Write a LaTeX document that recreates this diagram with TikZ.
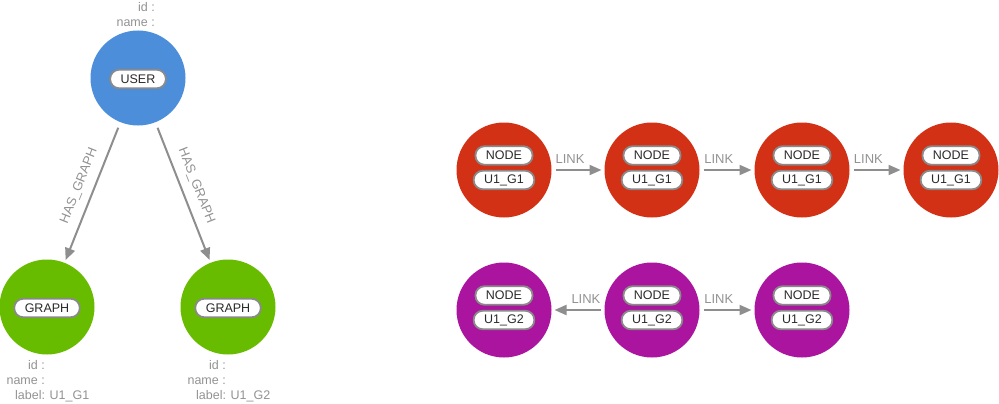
\documentclass[tikz,border=0pt]{standalone}
\usepackage{fontspec}
\setmainfont{Liberation Sans}
\usetikzlibrary{arrows.meta}
\definecolor{userblue}{HTML}{4C8EDA}
\definecolor{graphgreen}{HTML}{68BC00}
\definecolor{nodered}{HTML}{D33115}
\definecolor{nodepurple}{HTML}{AB149E}
\definecolor{pillgray}{HTML}{8A8A8A}
\definecolor{linkgray}{HTML}{8E8E8E}
\definecolor{labelgray}{HTML}{929292}
\definecolor{textdark}{HTML}{2A2A2A}
\tikzset{
  entity/.style={circle, minimum size=95pt, inner sep=0pt, outer sep=0pt, draw=none},
  pill/.style={draw=pillgray, line width=1.8pt, fill=white, rounded corners=9pt,
    minimum height=18.5pt, inner xsep=10.5pt, inner ysep=0pt, text=textdark,
    font=\fontsize{12.5}{12.5}\selectfont},
  rel/.style={draw=linkgray, line width=2pt, shorten <=4pt, shorten >=3pt,
    -{Triangle[length=12pt,width=10pt]}},
  rellabel/.style={text=labelgray, font=\fontsize{13}{13}\selectfont, inner sep=1pt},
  prop/.style={text=labelgray, font=\fontsize{12.5}{12.5}\selectfont, inner sep=0pt}
}
\begin{document}
\begin{tikzpicture}[x=1pt,y=-1pt]
\useasboundingbox (0,0) rectangle (999,404);
% left group
\node[entity, fill=userblue] (user) at (138,78) {};
\node[pill] (userpill) at ([yshift=-1pt]user.center) {USER};
\node[prop, anchor=base east] (uid) at (155,12) {id :};
\node[prop, anchor=base east] (uname) at (155,27) {name :};

\node[entity, fill=graphgreen] (g1) at (47,307) {};
\node[pill] (g1pill) at ([yshift=-1pt]g1.center) {GRAPH};
\node[entity, fill=graphgreen] (g2) at (228,307) {};
\node[pill] (g2pill) at ([yshift=-1pt]g2.center) {GRAPH};

\node[prop, anchor=base east] (g1id) at (45,369) {id :};
\node[prop, anchor=base east] (g1name) at (45,384) {name :};
\node[prop, anchor=base west] (g1label) at (15,399) {label: U1\_G1};
\node[prop, anchor=base east] (g2id) at (226,369) {id :};
\node[prop, anchor=base east] (g2name) at (226,384) {name :};
\node[prop, anchor=base west] (g2label) at (196,399) {label: U1\_G2};

\draw[rel, shorten <=6pt] (user) -- (g1) node[rellabel, pos=0.49, sloped, above=7pt] (hg1) {HAS\_GRAPH};
\draw[rel, shorten <=6pt] (user) -- (g2) node[rellabel, pos=0.49, sloped, above=7pt] (hg2) {HAS\_GRAPH};

% red chain
\foreach \i/\x in {1/504,2/652,3/802,4/951}{
  \node[entity, fill=nodered] (r\i) at (\x,170) {};
  \node[pill] (r\i a) at ([yshift=14.5pt]r\i.center) {NODE};
  \node[pill] (r\i b) at ([yshift=-10pt]r\i.center) {U1\_G1};
}
\draw[rel] (r1) -- (r2) node[rellabel, pos=0.35, above=5pt] (l12) {LINK};
\draw[rel] (r2) -- (r3) node[rellabel, pos=0.35, above=5pt] (l23) {LINK};
\draw[rel] (r3) -- (r4) node[rellabel, pos=0.35, above=5pt] (l34) {LINK};

% purple chain
\foreach \i/\x in {1/504,2/652,3/802}{
  \node[entity, fill=nodepurple] (p\i) at (\x,310) {};
  \node[pill] (p\i a) at ([yshift=14.5pt]p\i.center) {NODE};
  \node[pill] (p\i b) at ([yshift=-10pt]p\i.center) {U1\_G2};
}
\draw[rel] (p2) -- (p1) node[rellabel, pos=0.35, above=5pt] (l21) {LINK};
\draw[rel] (p2) -- (p3) node[rellabel, pos=0.35, above=5pt] (l23p) {LINK};
\end{tikzpicture}
\end{document}
